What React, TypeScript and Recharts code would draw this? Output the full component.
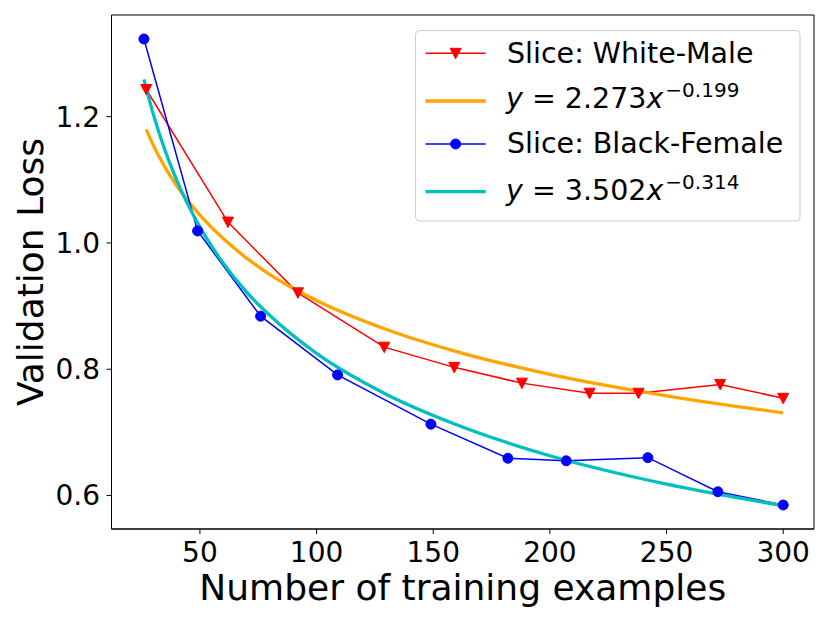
import { LineChart, Line, XAxis, YAxis, Legend, ReferenceArea } from 'recharts'

// tick labels
const xTicks = [50, 100, 150, 200, 250, 300]
const yTicks = [0.6, 0.8, 1.0, 1.2]

// Slice: White-Male
const whiteMaleX = [27, 62, 92, 129, 159, 188, 217, 238, 273, 300]
const whiteMaleLoss = [1.243, 1.033, 0.921, 0.835, 0.803, 0.778, 0.762, 0.762, 0.776, 0.754]

// Slice: Black-Female
const blackFemaleX = [26, 49, 76, 109, 149, 182, 207, 242, 272, 300]
const blackFemaleLoss = [1.323, 1.019, 0.884, 0.791, 0.713, 0.659, 0.655, 0.66, 0.606, 0.585]

// fitted curves
const whiteFitX = [27, 30, 35, 40, 50, 60, 70, 80, 100, 130, 160, 200, 250, 300]
const whiteFitLoss = [1.18, 1.155, 1.12, 1.091, 1.044, 1.007, 0.976, 0.95, 0.909, 0.863, 0.828, 0.792, 0.758, 0.731]
const blackFitX = [26, 30, 35, 40, 50, 60, 70, 80, 100, 130, 160, 200, 250, 300]
const blackFitLoss = [1.259, 1.204, 1.147, 1.1, 1.025, 0.968, 0.922, 0.885, 0.825, 0.76, 0.712, 0.663, 0.618, 0.584]

const toPoints = (xs: number[], ys: number[]) => xs.map((x, i) => ({ x, y: ys[i] }))

const FONT = 'DejaVu Sans'
const X_DOMAIN: [number, number] = [12.1, 313.2]
const Y_DOMAIN: [number, number] = [0.547, 1.361]
const LEGEND_FS = 28.5

const TriangleDown = ({ cx, cy }: any) => {
  if (cx == null || cy == null) return null
  return <path d={`M${cx - 5.5},${cy - 5} L${cx + 5.5},${cy - 5} L${cx},${cy + 5.5} Z`} fill="#ff0000" stroke="#ff0000" strokeWidth={1} />
}

const BlueDot = ({ cx, cy }: any) => {
  if (cx == null || cy == null) return null
  return <circle cx={cx} cy={cy} r={5} fill="#0000ff" stroke="#0000ff" strokeWidth={1} />
}

const MathLabel = ({ y, coef, exp }: { y: number; coef: string; exp: string }) => (
  <text x={91} y={y} fontSize={LEGEND_FS} fontFamily={FONT} fill="#000" style={{ whiteSpace: 'pre' }}>
    <tspan fontStyle="italic">y</tspan>
    <tspan>{` = ${coef}`}</tspan>
    <tspan fontStyle="italic">x</tspan>
    <tspan fontSize={20} dx={2} dy={-11}>{`\u2212${exp}`}</tspan>
  </text>
)

const LegendBox = () => (
  <svg width={386} height={192}>
    <rect x={0.5} y={0.5} width={384.5} height={190.5} rx={4} fill="#fff" fillOpacity={0.8} stroke="#cccccc" strokeWidth={1} />
    <line x1={10.5} x2={70.7} y1={23.3} y2={23.3} stroke="#ff0000" strokeWidth={1.5} />
    <TriangleDown cx={40.6} cy={23.3} />
    <text x={92} y={33.3} fontSize={LEGEND_FS} fontFamily={FONT} fill="#000">Slice: White-Male</text>

    <line x1={10.5} x2={70.7} y1={71} y2={71} stroke="#ffa500" strokeWidth={3.3} />
    <MathLabel y={77.7} coef="2.273" exp="0.199" />

    <line x1={10.5} x2={70.7} y1={114} y2={114} stroke="#0000ff" strokeWidth={1.5} />
    <BlueDot cx={40.6} cy={114} />
    <text x={92} y={123.3} fontSize={LEGEND_FS} fontFamily={FONT} fill="#000">Slice: Black-Female</text>

    <line x1={10.5} x2={70.7} y1={161.7} y2={161.7} stroke="#00bfbf" strokeWidth={3.3} />
    <MathLabel y={170} coef="3.502" exp="0.314" />
  </svg>
)

const XLabel = ({ viewBox }: any) => (
  <text x={viewBox.x + viewBox.width / 2} y={600} textAnchor="middle" fontSize={36} fontFamily={FONT} fill="#000">
    Number of training examples
  </text>
)

const YLabel = ({ viewBox }: any) => {
  const cy = viewBox.y + viewBox.height / 2
  return (
    <text x={43} y={cy} transform={`rotate(-90, 43, ${cy})`} textAnchor="middle" fontSize={36} fontFamily={FONT} fill="#000">
      Validation Loss
    </text>
  )
}

export default function App() {
  return (
    <div style={{ position: 'absolute', left: 0, top: 0, width: 830, height: 623, background: '#fff' }}>
      <LineChart width={830} height={623} margin={{ top: 15, right: 16, bottom: 0, left: 0 }}>
        <XAxis
          dataKey="x"
          type="number"
          domain={X_DOMAIN}
          allowDataOverflow
          ticks={xTicks}
          height={94}
          tickSize={5}
          tickMargin={8}
          stroke="#000"
          tick={{ fontSize: 28, fontFamily: FONT, fill: '#000' }}
          label={<XLabel />}
        />
        <YAxis
          type="number"
          domain={Y_DOMAIN}
          allowDataOverflow
          ticks={yTicks}
          width={111.5}
          tickSize={5}
          tickMargin={6.5}
          stroke="#000"
          tickFormatter={(v) => v.toFixed(1)}
          tick={{ fontSize: 28, fontFamily: FONT, fill: '#000' }}
          label={<YLabel />}
        />
        <ReferenceArea x1={X_DOMAIN[0]} x2={X_DOMAIN[1]} y1={Y_DOMAIN[0]} y2={Y_DOMAIN[1]} fill="none" stroke="#000" strokeWidth={1} />
        <Line
          data={toPoints(whiteMaleX, whiteMaleLoss)}
          dataKey="y"
          type="linear"
          stroke="#ff0000"
          strokeWidth={1.5}
          dot={<TriangleDown />}
          activeDot={false}
          isAnimationActive={false}
        />
        <Line
          data={toPoints(whiteFitX, whiteFitLoss)}
          dataKey="y"
          type="monotone"
          stroke="#ffa500"
          strokeWidth={3.3}
          dot={false}
          activeDot={false}
          isAnimationActive={false}
        />
        <Line
          data={toPoints(blackFemaleX, blackFemaleLoss)}
          dataKey="y"
          type="linear"
          stroke="#0000ff"
          strokeWidth={1.5}
          dot={<BlueDot />}
          activeDot={false}
          isAnimationActive={false}
        />
        <Line
          data={toPoints(blackFitX, blackFitLoss)}
          dataKey="y"
          type="monotone"
          stroke="#00bfbf"
          strokeWidth={3.3}
          dot={false}
          activeDot={false}
          isAnimationActive={false}
        />
        <Legend verticalAlign="middle" wrapperStyle={{ top: 30, left: 415, width: 386, height: 192 }} content={() => <LegendBox />} />
      </LineChart>
    </div>
  )
}
